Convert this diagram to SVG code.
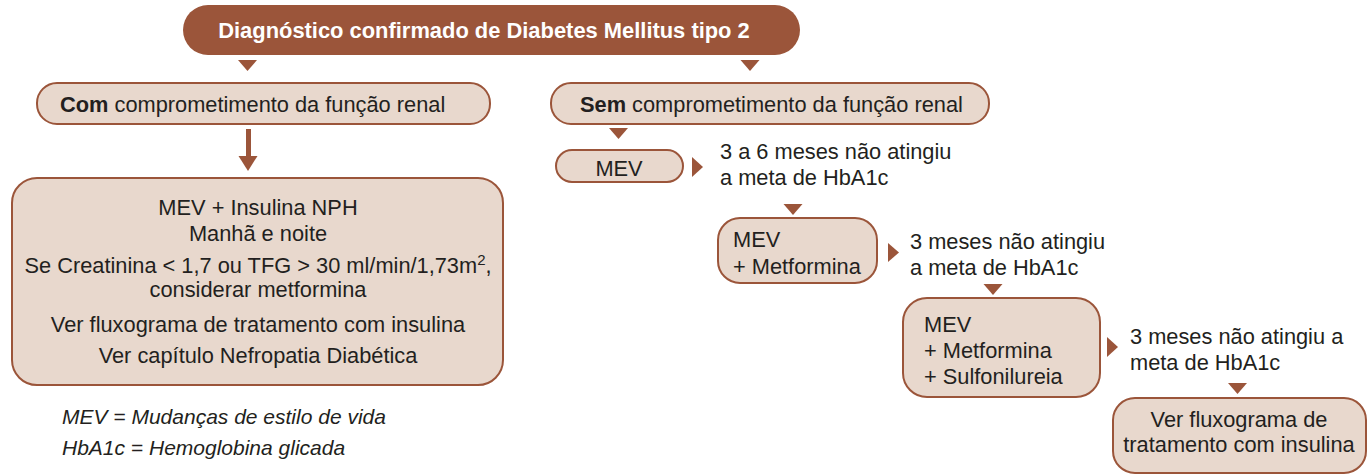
<svg xmlns="http://www.w3.org/2000/svg" width="1367" height="475" viewBox="0 0 1367 475">
<style>
text{font-family:"Liberation Sans",Arial,sans-serif;font-size:21.8px;fill:#231f20}
.box{fill:#e8d8cd;stroke:#9b553a;stroke-width:2}
.tri{fill:#9b553a}
.c{text-anchor:middle}
.b{font-weight:bold}
.i{font-style:italic;font-size:21px}
</style>
<rect width="1367" height="475" fill="#fff"/>
<g id="top">
<rect x="183" y="5" width="617" height="50" rx="25" fill="#9b553a"/>
<text x="484" y="38" class="c b" style="fill:#fff;font-size:21.9px">Diagnóstico confirmado de Diabetes Mellitus tipo 2</text>
</g>
<g id="com">
<rect class="box" x="37" y="83" width="453" height="41" rx="20"/>
<text x="60" y="112"><tspan class="b">Com</tspan> comprometimento da função renal</text>
</g>
<g id="comtrat">
<rect class="box" x="12" y="178" width="491" height="207" rx="25"/>
<text x="258" y="215" class="c">MEV + Insulina NPH</text>
<text x="258" y="241" class="c">Manhã e noite</text>
<text x="258" y="273" class="c">Se Creatinina &lt; 1,7 ou TFG &gt; 30 ml/min/1,73m<tspan dy="-8" font-size="15">2</tspan><tspan dy="8">,</tspan></text>
<text x="258" y="297" class="c">considerar metformina</text>
<text x="258" y="332" class="c">Ver fluxograma de tratamento com insulina</text>
<text x="258" y="363" class="c">Ver capítulo Nefropatia Diabética</text>
</g>
<g id="sem">
<rect class="box" x="551" y="83" width="438" height="41" rx="20"/>
<text x="580" y="112"><tspan class="b">Sem</tspan> comprometimento da função renal</text>
</g>
<g id="mev">
<rect class="box" x="556" y="150" width="127" height="32" rx="16"/>
<text x="619" y="176" class="c">MEV</text>
</g>
<g id="mevmet">
<rect class="box" x="718" y="218" width="159" height="65" rx="22"/>
<text x="733" y="247">MEV</text>
<text x="733" y="274">+ Metformina</text>
</g>
<g id="mevmetsulf">
<rect class="box" x="903" y="298" width="197" height="99" rx="24"/>
<text x="924" y="332">MEV</text>
<text x="924" y="358">+ Metformina</text>
<text x="924" y="384">+ Sulfonilureia</text>
</g>
<g id="insulina">
<rect class="box" x="1113" y="398" width="253" height="75" rx="22"/>
<text x="1239" y="427" class="c">Ver fluxograma de</text>
<text x="1239" y="452" class="c">tratamento com insulina</text>
</g>
<g id="labels">
<text x="720" y="159">3 a 6 meses não atingiu</text>
<text x="720" y="185">a meta de HbA1c</text>
<text x="910" y="249">3 meses não atingiu</text>
<text x="910" y="275">a meta de HbA1c</text>
<text x="1130" y="344">3 meses não atingiu a</text>
<text x="1130" y="370">meta de HbA1c</text>
</g>
<g id="legend">
<text x="62" y="424" class="i">MEV = Mudanças de estilo de vida</text>
<text x="62" y="455" class="i">HbA1c = Hemoglobina glicada</text>
</g>
<g id="connectors">
<polygon class="tri" points="238,60 257,60 247.5,71"/>
<polygon class="tri" points="740.5,60 759.5,60 750,71"/>
<rect class="tri" x="246" y="129" width="5" height="28"/>
<polygon class="tri" points="238.5,156 257.5,156 248,171"/>
<polygon class="tri" points="609,128 628,128 618.5,139"/>
<polygon class="tri" points="692,157 692,177 703,167"/>
<polygon class="tri" points="783.5,204 802.5,204 793,215"/>
<polygon class="tri" points="888,243 888,262 899,252.5"/>
<polygon class="tri" points="983.5,284 1002.5,284 993,295"/>
<polygon class="tri" points="1107,337 1107,357 1118,347"/>
<polygon class="tri" points="1228,383 1247,383 1237.5,394"/>
</g>
</svg>
